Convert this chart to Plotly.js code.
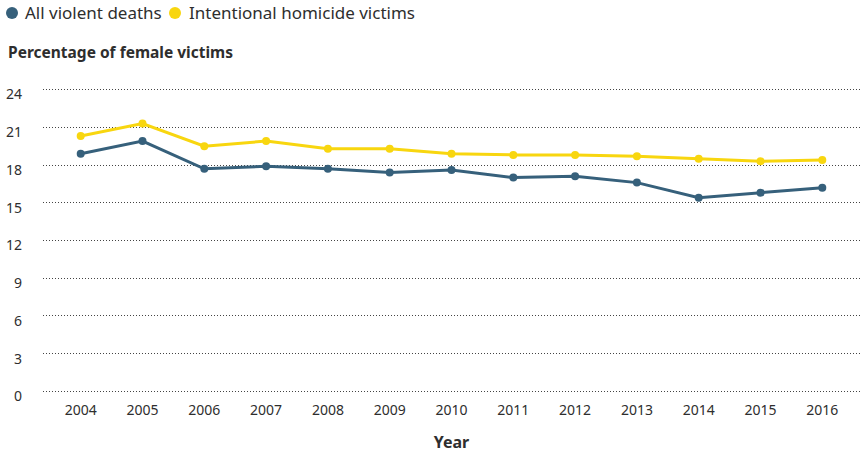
<!DOCTYPE html>
<html>
<head>
<meta charset="utf-8">
<script src="https://cdn.plot.ly/plotly-3.0.1.min.js"></script>
<style>html,body{margin:0;padding:0;background:#fff;}#chart{width:860px;height:455px;}</style>
</head>
<body>
<div id="chart"></div>
<script>
const years = ['2004','2005','2006','2007','2008','2009','2010','2011','2012','2013','2014','2015','2016'];
const allViolentDeaths = [18.9, 19.9, 17.7, 17.9, 17.7, 17.4, 17.6, 17.0, 17.1, 16.6, 15.4, 15.8, 16.2];
const intentionalHomicide = [20.3, 21.3, 19.5, 19.9, 19.3, 19.3, 18.9, 18.8, 18.8, 18.7, 18.5, 18.3, 18.4];
const yTicks = [0, 3, 6, 9, 12, 15, 18, 21, 24];
const seriesNames = ['All violent deaths', 'Intentional homicide victims'];
const colors = ['#36607b', '#f8d60f'];
const FONT = 'Noto Sans, Open Sans, sans-serif';
const TXT = '#2e2e2e';

const M = {l: 43, r: 0, t: 87, b: 61};
const W = 860, H = 455;
const PW = W - M.l - M.r, PH = H - M.t - M.b;
const px = v => (v - M.l) / PW;          // pixel x -> paper x
const py = v => (H - M.b - v) / PH;      // pixel y -> paper y

const traces = [
  {x: years, y: allViolentDeaths, name: seriesNames[0], type: 'scatter', mode: 'lines+markers',
   line: {color: colors[0], width: 3}, marker: {color: colors[0], size: 8}, showlegend: false},
  {x: years, y: intentionalHomicide, name: seriesNames[1], type: 'scatter', mode: 'lines+markers',
   line: {color: colors[1], width: 3}, marker: {color: colors[1], size: 8}, showlegend: false}
];

// legend built from symbols + labels
const legendDotX = [12, 175];
const legendTextX = [23, 187];
const legendY = 13;
const shapes = seriesNames.map((n, i) => ({
  type: 'circle', xref: 'paper', yref: 'paper',
  x0: px(legendDotX[i] - 6), x1: px(legendDotX[i] + 6),
  y0: py(legendY + 6), y1: py(legendY - 6),
  fillcolor: colors[i], line: {width: 0}
}));
const annotations = seriesNames.map((n, i) => ({
  text: n, xref: 'paper', yref: 'paper', x: px(legendTextX[i]), xanchor: 'left',
  y: py(legendY), yanchor: 'middle', showarrow: false, font: {size: 17, color: TXT, family: FONT}
}));

const layout = {
  width: W, height: H,
  margin: M,
  paper_bgcolor: '#fff', plot_bgcolor: '#fff',
  font: {family: FONT, color: TXT, size: 14},
  showlegend: false,
  title: {text: '<b>Percentage of female victims</b>', x: 8/W, xanchor: 'left', xref: 'container',
          y: 1 - 53/H, yanchor: 'middle', yref: 'container', font: {size: 15.5, color: TXT, family: FONT}},
  xaxis: {
    type: 'category', range: [-0.61, 12.61], showgrid: false, zeroline: false, showline: false,
    ticks: '', ticklabelstandoff: 6, tickfont: {size: 14, color: TXT},
    title: {text: '<b>Year</b>', font: {size: 16, color: TXT}, standoff: 18}
  },
  yaxis: {
    range: [-0.2, 24.2], tickvals: yTicks, ticktext: yTicks.map(String),
    showgrid: true, gridcolor: '#444', griddash: '1px,2px', gridwidth: 1,
    zeroline: false, showline: false, ticks: '', ticklabelshift: 5, ticklabelstandoff: 20,
    tickfont: {size: 14, color: TXT}
  },
  shapes: shapes,
  annotations: annotations
};

Plotly.newPlot('chart', traces, layout, {displayModeBar: false, staticPlot: true});
</script>
</body>
</html>
